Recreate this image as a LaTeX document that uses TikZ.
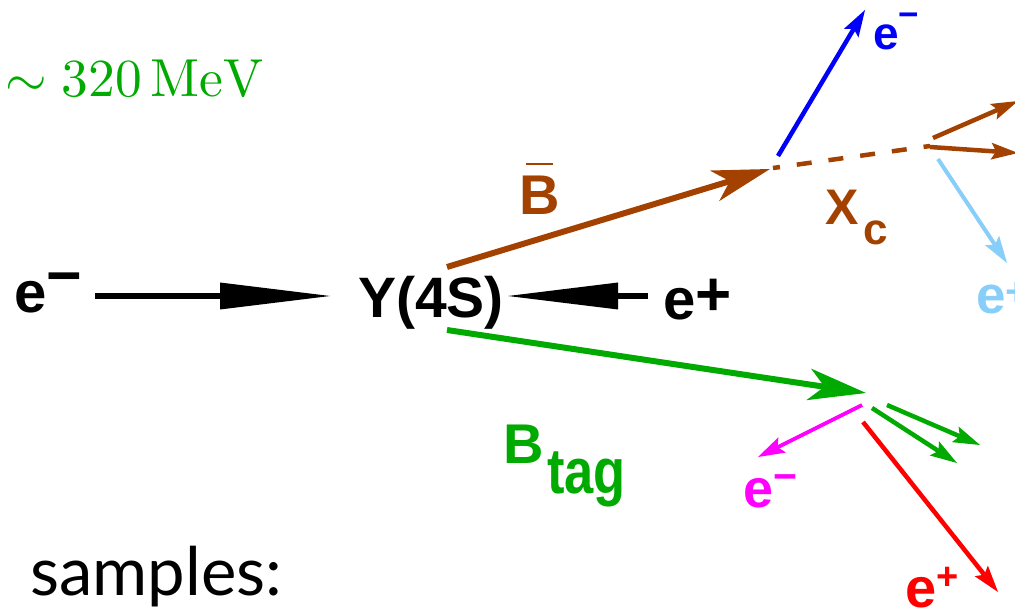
\documentclass[tikz,border=0pt]{standalone}
\usepackage[no-math]{fontspec}
\usepackage{graphicx}
\newfontfamily\arl{Liberation Sans}
\newfontfamily\lato{Lato}
\usetikzlibrary{arrows.meta}
\definecolor{bbrown}{RGB}{163,66,0}
\definecolor{bgreen}{RGB}{0,170,0}
\definecolor{lblue}{RGB}{135,206,250}
\definecolor{bblue}{RGB}{0,0,250}
\definecolor{bmag}{RGB}{255,0,255}
\definecolor{bred}{RGB}{255,0,0}
\newcommand\rsup[3]{\raisebox{#1}{\fontsize{#2}{#2}\selectfont #3}}
\newcommand\fs[1]{\fontsize{#1}{#1}\selectfont}
\begin{document}
\begin{tikzpicture}[x=1pt,y=-1pt,
  lab/.style={inner sep=0pt, anchor=base west, font=\arl\bfseries},
  bigtip/.style={-{Triangle[length=110pt,width=27pt,line width=0pt]}},
  kite/.style={-{Stealth[length=58pt,width=32pt,inset=16pt,line width=0pt]}},
  small/.style={-{Stealth[length=27pt,width=17pt,inset=5pt,line width=0pt]}},
  beam/.style={line width=6pt, black},
  thick6/.style={line width=6pt},
  trk/.style={line width=4.5pt}]
\useasboundingbox (0,0) rectangle (1015,612);
\clip (0,0) rectangle (1015,612);

% labels
\node[inner sep=0pt, anchor=base west, text=bgreen] (mev) at (5,97) {\scalebox{5.35}{$\sim 320\,\mathrm{MeV}$}};
\node[inner sep=0pt, anchor=base west] (smp) at (30,595) {\lato\fs{67}samples:};
\node[lab] (em) at (14,313) {\fs{58}e\rsup{16pt}{61}{−}};
\node[lab] (ups) at (358,318) {\fs{57}Y(4S)};
\node[lab] (ep) at (663,320) {\fs{58}e\rsup{5pt}{62}{+}};
\node[lab, text=bbrown] (Bbar) at (519,215) {\fs{56}\rlap{\hspace{7pt}\rule[50pt]{27pt}{2pt}}B};
\node[lab, text=bbrown] (X) at (825,225) {\fs{50}X};
\node[lab, text=bbrown] (c) at (863,245) {\fs{44}c};
\node[lab, text=bgreen] (B) at (503,463) {\fs{56}B};
\node[lab, text=bgreen] (tag) at (547,493) {\fs{64}\scalebox{0.82}[1]{tag}};
\node[lab, text=bblue] (eb) at (873,50) {\fs{46}e\rsup{23pt}{35}{−}};
\node[lab, text=lblue] (el) at (976,314) {\fs{53}e\rsup{8pt}{40}{+}};
\node[lab, text=bmag] (emg) at (743,507) {\fs{54}e\rsup{17pt}{41}{−}};
\node[lab, text=bred] (er) at (905,607) {\fs{56}e\rsup{18pt}{38}{+}};

% coordinates
\coordinate (a1) at (95,296);  \coordinate (a1t) at (330,296);
\coordinate (a2) at (648,296); \coordinate (a2t) at (508,296);
\coordinate (b0) at (447,267); \coordinate (b1) at (770,169);
\coordinate (d0) at (773,168); \coordinate (d1) at (930,146);
\coordinate (u0) at (778,156); \coordinate (u1) at (865,10);
\coordinate (x0) at (933,138); \coordinate (x1) at (1018,101);
\coordinate (x2) at (930,147); \coordinate (x3) at (1018,153);
\coordinate (l0) at (938,159); \coordinate (l1) at (1007,263);
\coordinate (g0) at (447,330); \coordinate (g1) at (866,393);
\coordinate (m0) at (862,405); \coordinate (m1) at (758,457);
\coordinate (s0) at (887,405); \coordinate (s1) at (980,445);
\coordinate (s2) at (872,408); \coordinate (s3) at (957,463);
\coordinate (r0) at (863,422); \coordinate (r1) at (998,592);

% beams
\draw[beam, bigtip] (a1) -- (a1t);
\draw[beam, bigtip] (a2) -- (a2t);

% B-bar side
\draw[bbrown, thick6, kite] (b0) -- (b1);
\draw[bbrown, line width=4.5pt, dash pattern=on 15pt off 17pt, dash phase=8pt] (d0) -- (d1);
\draw[bblue, trk, small] (u0) -- (u1);
\draw[bbrown, trk, small] (x0) -- (x1);
\draw[bbrown, trk, small] (x2) -- (x3);
\draw[lblue, line width=4pt, small] (l0) -- (l1);

% B tag side
\draw[bgreen, thick6, kite] (g0) -- (g1);
\draw[bmag, line width=3.8pt, small] (m0) -- (m1);
\draw[bgreen, trk, small] (s0) -- (s1);
\draw[bgreen, trk, small] (s2) -- (s3);
\draw[bred, trk, small] (r0) -- (r1);
\end{tikzpicture}
\end{document}
